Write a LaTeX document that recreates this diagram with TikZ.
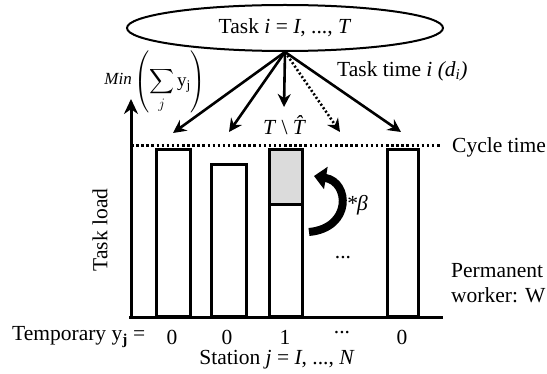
\documentclass[tikz,border=0pt]{standalone}
\usepackage{exscale}
\usepackage{fontspec}
\setmainfont{Liberation Serif}
\usetikzlibrary{arrows.meta,shapes.geometric}
\begin{document}
\begin{tikzpicture}[x=1pt,y=-1pt,
  lbl/.style={font=\fontsize{21.5}{25}\selectfont, inner sep=0pt},
  conn/.style={line width=2.6pt, -{Stealth[length=13pt,width=13pt]}},
  barbox/.style={draw, line width=3pt, minimum width=#1, inner sep=0pt, anchor=south west},
]
\useasboundingbox (0,0) rectangle (547,374);
% task ellipse
\node[ellipse, draw, line width=2pt, minimum width=316pt, minimum height=46pt, lbl] (task) at (285,28)
  {Task \textit{i} = \textit{I}, ..., \textit{T}};
\node[lbl, anchor=west] (tasktime) at (337,71) {Task time \textit{i (d\textsubscript{i})}};
% objective
\node[inner sep=0pt, anchor=east] (minlbl) at (132,79) {\fontsize{17}{20}\selectfont\textit{Min}};
\node[inner sep=0pt, anchor=west] (sumlbl) at (134,82) {\fontsize{19}{22}\selectfont$\displaystyle\left(\sum_{j}\mathrm{y}_{\mathrm{j}}\right)$};
% axes
\coordinate (origin) at (131,318);
\coordinate (ytop) at (131,99);
\coordinate (xstart) at (129,318);
\coordinate (xend) at (443,318);
\draw[line width=3pt, -{Stealth[length=15pt,width=14pt]}] (origin) -- (ytop);
\draw[line width=3pt] (xstart) -- (xend);
% cycle time line
\coordinate (cl) at (131,146);
\coordinate (cr) at (442,146);
\draw[line width=3pt, dash pattern=on 2.5pt off 2.6pt] (cl) -- (cr);
\node[lbl, anchor=west] (cycle) at (452,147) {Cycle time};
% bars
\node[barbox=34pt, minimum height=167pt] (b1) at (155,318) {};
\node[barbox=35pt, minimum height=152pt] (b2) at (210,318) {};
\node[barbox=33pt, minimum height=115pt] (b3) at (268,318) {};
\node[barbox=33pt, minimum height=55pt, fill=gray!28, anchor=north west] (b3top) at (268,148) {};
\node[barbox=31pt, minimum height=167pt] (b4) at (386,318) {};
% arrows from task
\coordinate (t1) at (173,133);
\coordinate (t2) at (229,132);
\coordinate (t3) at (284,107);
\coordinate (t4) at (340,132);
\coordinate (t5) at (401,132);
\draw[conn] (task.south) -- (t1);
\draw[conn] (task.south) -- (t2);
\draw[conn] (task.south) -- (t3);
\draw[conn, dash pattern=on 2pt off 2.2pt] (task.south) -- (t4);
\draw[conn] (task.south) -- (t5);
\node[lbl] (tminus) at (288,125) {\textit{T} \textbackslash{} \textit{\^{T}}};
% curved beta arrow
\coordinate (ca) at (309,232);
\coordinate (cb) at (314,176);
\draw[line width=8pt, -{Triangle[length=12pt,width=22pt]}] (ca) .. controls (352,228) and (350,182) .. (cb);
\node[lbl] (beta) at (357,205) {\textit{*β}};
\node[lbl] (dotsin) at (343,258) {...};
% right labels
\node[lbl, anchor=west, align=left] (perm) at (451,283) {Permanent\\worker: W};
\node[lbl, rotate=90] (load) at (100,230) {Task load};
% bottom labels
\node[lbl, anchor=west] (temp) at (12,337) {Temporary y\textsubscript{\textbf{j}} =};
\node[lbl] (y1) at (172,337) {0};
\node[lbl] (y2) at (227,337) {0};
\node[lbl] (y3) at (285,337) {1};
\node[lbl] (ydots) at (342,333) {...};
\node[lbl] (y4) at (402,337) {0};
\node[lbl] (station) at (277,360) {Station \textit{j} = \textit{I}, ..., \textit{N}};
\end{tikzpicture}
\end{document}
